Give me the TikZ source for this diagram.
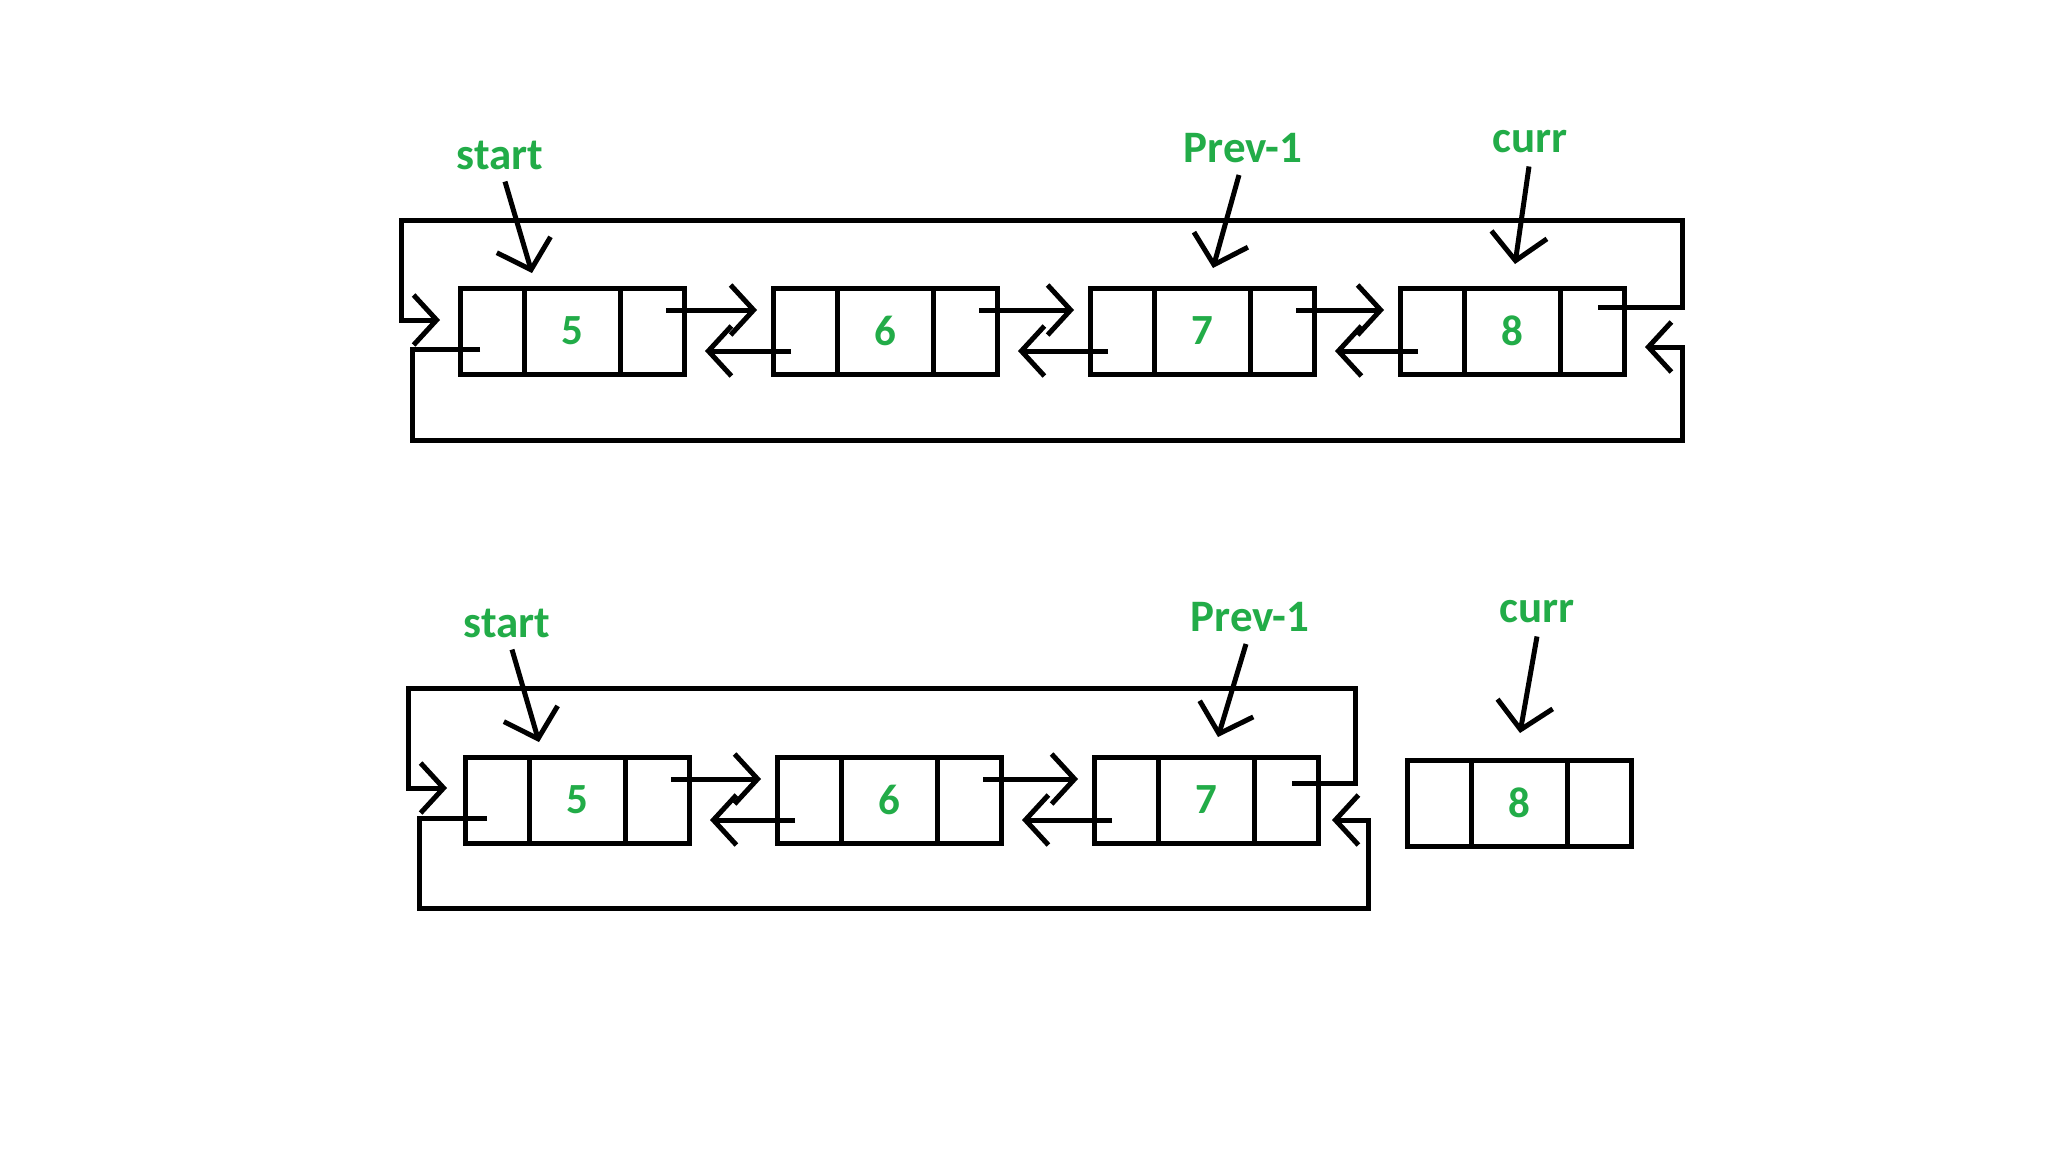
\documentclass[tikz,border=0pt]{standalone}
\usepackage{fontspec}
\setmainfont{Carlito}
\usetikzlibrary{arrows.meta,calc}
\definecolor{pgreen}{RGB}{34,172,72}
\tikzset{
  cellbox/.style={draw, line width=5pt, minimum height=86pt, inner sep=0pt, outer sep=0pt,
    anchor=north west, text=pgreen, font=\fontsize{43}{50}\selectfont\bfseries},
  lbl/.style={text=pgreen, inner sep=0pt, font=\fontsize{45}{52}\selectfont\bfseries},
  link/.style={line width=5pt, -{Straight Barb[length=23pt,width=50pt]}},
  pointer/.style={line width=5pt, -{Straight Barb[length=26pt,width=56pt]}},
}
\newcommand{\llelem}[4]{%
  \node[cellbox, minimum width=64pt] (#1l) at (#2,#3) {};
  \node[cellbox, minimum width=96pt] (#1m) at (#1l.north east) {#4};
  \node[cellbox, minimum width=64pt] (#1r) at (#1m.north east) {};
}
\begin{document}
\begin{tikzpicture}[x=1pt,y=-1pt]
\fill[white] (0,0) rectangle (2048,1152);
\useasboundingbox (0,0) rectangle (2048,1152);

% ---------- row 1 ----------
\llelem{a1}{460}{288}{5}
\llelem{a2}{773}{288}{6}
\llelem{a3}{1090}{288}{7}
\llelem{a4}{1400}{288}{8}

\draw[link] ([shift={(-18pt,-22pt)}]a1r.north east) -- ([shift={(-16pt,-22pt)}]a2l.north west);
\draw[link] ([shift={(18pt,-63pt)}]a2l.north west) -- ([shift={(21pt,-63pt)}]a1r.north east);
\draw[link] ([shift={(-18pt,-22pt)}]a2r.north east) -- ([shift={(-16pt,-22pt)}]a3l.north west);
\draw[link] ([shift={(18pt,-63pt)}]a3l.north west) -- ([shift={(21pt,-63pt)}]a2r.north east);
\draw[link] ([shift={(-18pt,-22pt)}]a3r.north east) -- ([shift={(-16pt,-22pt)}]a4l.north west);
\draw[link] ([shift={(18pt,-63pt)}]a4l.north west) -- ([shift={(21pt,-63pt)}]a3r.north east);

\coordinate (a-topR) at (1682,220);
\coordinate (a-topL) at (401,220);
\coordinate (a-botL) at (412,440);
\coordinate (a-botR) at (1682,440);
\draw[link] ([shift={(-26pt,-19pt)}]a4r.north east) -| (a-topR) -- (a-topL)
  |- ([shift={(-20pt,-32pt)}]a1l.north west);
\draw[link] ([shift={(20pt,-61pt)}]a1l.north west) -| (a-botL) -- (a-botR)
  |- ([shift={(21pt,-59pt)}]a4r.north east);

\node[lbl] (as) at (500,155) {start};
\node[lbl] (ap) at (1243,148) {Prev-1};
\node[lbl] (ac) at (1530,142) {curr};
\coordinate (as-t) at (532,273);
\coordinate (ap-t) at (1213,268);
\coordinate (ac-t) at (1515,264);
\draw[pointer] ([shift={(5pt,-12pt)}]as.south) -- (as-t);
\draw[pointer] ([shift={(-4pt,-12pt)}]ap.south) -- (ap-t);
\draw[pointer] ([shift={(-1pt,-13pt)}]ac.south) -- (ac-t);

% ---------- row 2 ----------
\llelem{b1}{465}{757}{5}
\llelem{b2}{777}{757}{6}
\llelem{b3}{1094}{757}{7}
\llelem{b4}{1407}{760}{8}

\draw[link] ([shift={(-18pt,-22pt)}]b1r.north east) -- ([shift={(-16pt,-22pt)}]b2l.north west);
\draw[link] ([shift={(18pt,-63pt)}]b2l.north west) -- ([shift={(21pt,-63pt)}]b1r.north east);
\draw[link] ([shift={(-18pt,-22pt)}]b2r.north east) -- ([shift={(-16pt,-22pt)}]b3l.north west);
\draw[link] ([shift={(18pt,-63pt)}]b3l.north west) -- ([shift={(21pt,-63pt)}]b2r.north east);

\coordinate (b-topR) at (1355,688);
\coordinate (b-topL) at (408,688);
\coordinate (b-botL) at (419,908);
\coordinate (b-botR) at (1368,908);
\draw[link] ([shift={(-26pt,-26pt)}]b3r.north east) -| (b-topR) -- (b-topL)
  |- ([shift={(-18pt,-31pt)}]b1l.north west);
\draw[link] ([shift={(22pt,-61pt)}]b1l.north west) -| (b-botL) -- (b-botR)
  |- ([shift={(14pt,-63pt)}]b3r.north east);

\node[lbl] (bs) at (507,623) {start};
\node[lbl] (bp) at (1250,617) {Prev-1};
\node[lbl] (bc) at (1537,612) {curr};
\coordinate (bs-t) at (539,742);
\coordinate (bp-t) at (1218,737);
\coordinate (bc-t) at (1520,733);
\draw[pointer] ([shift={(5pt,-12pt)}]bs.south) -- (bs-t);
\draw[pointer] ([shift={(-4pt,-12pt)}]bp.south) -- (bp-t);
\draw[pointer] ([shift={(0pt,-13pt)}]bc.south) -- (bc-t);
\end{tikzpicture}
\end{document}
